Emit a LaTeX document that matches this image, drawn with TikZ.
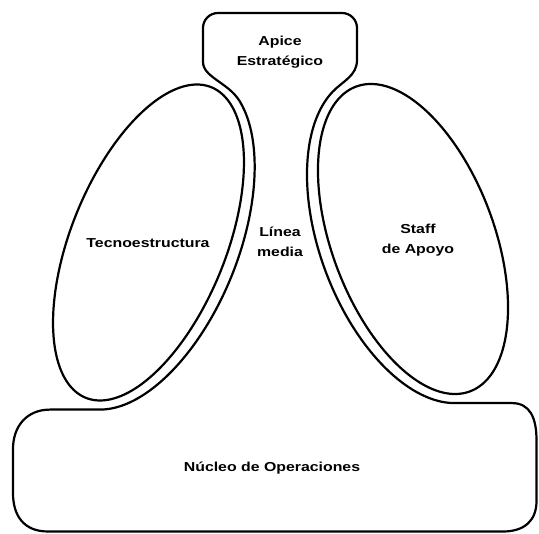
\documentclass[tikz,border=0pt]{standalone}
\usepackage{fontspec}
\newfontfamily\lblfont[FakeStretch=1.22]{Liberation Sans}
\tikzset{
  outl/.style={line width=2.2pt, line join=round},
  lbl/.style={font=\lblfont\bfseries\fontsize{13}{20}\selectfont, align=center, inner sep=0pt}
}
\begin{document}
\begin{tikzpicture}[x=1pt,y=-1pt]
\useasboundingbox (0,0) rectangle (539,534);
% outer outline: apex, bands (line media) and operating core
\draw[outl] (203,45) -- (203,62) .. controls (203,77) and (227.9,82.7) .. (239.0,100.2)
  -- plot[domain=20:168.4, samples=60, smooth, variable=\t]
     ({148.5+66.12*cos(\t)+83.08*sin(\t)},{242.5-163.65*cos(\t)+33.56*sin(\t)})
  -- (50,409.6) .. controls (27,409.6) and (13,426) .. (13,449)
  -- (13,493) .. controls (13,516) and (24,531.5) .. (48,531.5)
  -- (503,531.5) .. controls (524,531.5) and (536.5,521) .. (536.5,501)
  -- (536.5,440) .. controls (536.5,418) and (530,403.1) .. (512,403.1)
  -- plot[domain=15:168.5, samples=60, smooth, variable=\t]
     ({413-60.13*cos(183.5-\t)-87.30*sin(183.5-\t)},{239-160.83*cos(183.5-\t)+32.64*sin(183.5-\t)})
  .. controls (342.6,81.1) and (357,76) .. (357,60)
  -- (357,28) .. controls (357,19.7) and (350.3,13) .. (342,13)
  -- (218,13) .. controls (209.7,13) and (203,19.7) .. (203,28)
  -- cycle;
% Tecnoestructura ellipse
\draw[outl] plot[domain=0:356.4, samples=100, smooth cycle, variable=\t]
  ({148.5+62.75*cos(\t)+71.95*sin(\t)},{242.5-155.31*cos(\t)+29.07*sin(\t)});
% Staff de Apoyo ellipse
\draw[outl] plot[domain=0:356.4, samples=100, smooth cycle, variable=\t]
  ({413-56.98*cos(\t)-76.06*sin(\t)},{239-152.40*cos(\t)+28.44*sin(\t)});
% labels
\node[lbl] (apex) at (280,52) {Apice\\Estratégico};
\node[lbl] (tecno) at (148,243) {Tecnoestructura};
\node[lbl] (linea) at (280,242) {Línea\\media};
\node[lbl] (staff) at (418,240) {Staff\\de Apoyo};
\node[lbl] (nucleo) at (272,468) {Núcleo de Operaciones};
\end{tikzpicture}
\end{document}
